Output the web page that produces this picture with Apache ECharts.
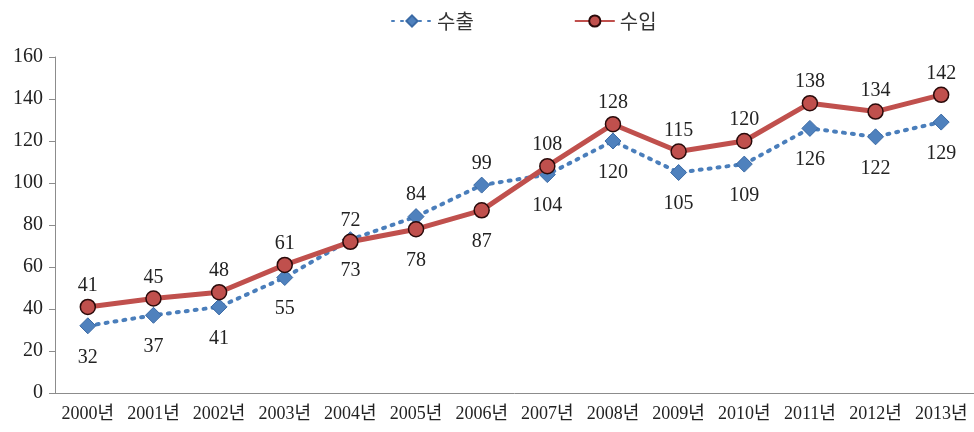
<!DOCTYPE html>
<html>
<head>
<meta charset="utf-8">
<script src="https://cdn.jsdelivr.net/npm/echarts@6/dist/echarts.min.js"></script>
<style>
  html, body { margin: 0; padding: 0; background: #fff; }
  #chart { width: 974px; height: 432px; }
</style>
</head>
<body>
<div id="chart"></div>
<script>
const years = ['2000년', '2001년', '2002년', '2003년', '2004년', '2005년', '2006년',
  '2007년', '2008년', '2009년', '2010년', '2011년', '2012년', '2013년']
const exports = [32, 37, 41, 55, 73, 84, 99, 104, 120, 105, 109, 126, 122, 129]
const imports = [41, 45, 48, 61, 72, 78, 87, 108, 128, 115, 120, 138, 134, 142]
// 라벨 위치 (top / bottom)
const exportLabelPos = ['bottom', 'bottom', 'bottom', 'bottom', 'bottom', 'top', 'top',
  'bottom', 'bottom', 'bottom', 'bottom', 'bottom', 'bottom', 'bottom']
const importLabelPos = ['top', 'top', 'top', 'top', 'top', 'bottom', 'bottom',
  'top', 'top', 'top', 'top', 'top', 'top', 'top']

const fontFamily = '"Liberation Serif", "Noto Sans CJK KR", serif'

const withLabels = (values, positions) => values.map((v, i) => ({
  value: v,
  label: { position: positions[i], distance: positions[i] === 'top' ? 3 : 13 }
}))

const chart = echarts.init(document.getElementById('chart'))
const option = {
  animation: false,
  textStyle: { fontFamily: fontFamily },
  legend: {
    top: 6,
    left: 386,
    itemGap: 100,
    itemWidth: 40,
    itemHeight: 14,
    textStyle: { fontSize: 20, color: '#333', fontFamily: '"Noto Sans CJK KR", sans-serif' },
    data: ['수출', '수입']
  },
  grid: { left: 55, right: -5, top: 57, bottom: 39 },
  xAxis: {
    type: 'category',
    data: years,
    boundaryGap: true,
    axisLine: { lineStyle: { color: '#8c8c8c' } },
    axisTick: { length: 6, lineStyle: { color: '#8c8c8c' } },
    axisLabel: { interval: 0, fontSize: 18, color: '#222', margin: 12, fontFamily: fontFamily }
  },
  yAxis: {
    type: 'value',
    min: 0,
    max: 160,
    interval: 20,
    splitLine: { show: false },
    axisLine: { show: true, lineStyle: { color: '#8c8c8c' } },
    axisTick: { show: true, length: 6, lineStyle: { color: '#8c8c8c' } },
    axisLabel: { fontSize: 20, color: '#222', margin: 12, fontFamily: fontFamily }
  },
  series: [
    {
      name: '수출',
      type: 'line',
      data: withLabels(exports, exportLabelPos),
      symbol: 'diamond',
      symbolSize: 16,
      lineStyle: { color: '#4a7ebb', width: 4, type: [2, 7], cap: 'round' },
      itemStyle: { color: '#4f81bd', borderColor: '#3a6aa5', borderWidth: 1 },
      label: { show: true, fontSize: 20, color: '#222', fontFamily: fontFamily },
      z: 2
    },
    {
      name: '수입',
      type: 'line',
      data: withLabels(imports, importLabelPos),
      symbol: 'circle',
      symbolSize: 15,
      lineStyle: { color: '#c0504d', width: 5 },
      itemStyle: { color: '#c0504d', borderColor: '#2a0a0a', borderWidth: 1.5 },
      label: { show: true, fontSize: 20, color: '#222', fontFamily: fontFamily },
      z: 3
    }
  ]
}
chart.setOption(option)
</script>
</body>
</html>
